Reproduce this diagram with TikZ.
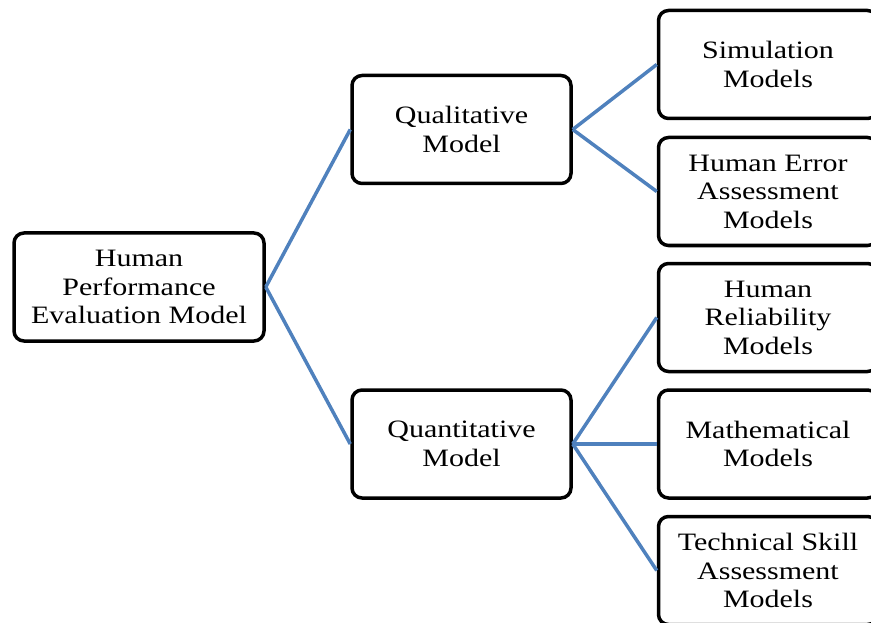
\documentclass[tikz,border=0pt]{standalone}
\usepackage{fontspec}
\setmainfont{Liberation Serif}[FakeStretch=1.2]
\begin{document}
\begin{tikzpicture}[x=1pt,y=-1pt,
    box/.style={draw,line width=3.5pt,rounded corners=10pt,fill=white,
        align=center,inner sep=0pt,minimum width=219pt,minimum height=108pt,
        font=\fontsize{25}{28.5}\selectfont},
    link/.style={draw={rgb,255:red,79;green,129;blue,189},line width=3.5pt}]
    \useasboundingbox (0,0) rectangle (871,623);
    \clip (0,0) rectangle (871,623);
    \node[box,minimum width=250pt] (human) at (139,287) {Human\\Performance\\Evaluation Model};
    \node[box] (qual) at (461.5,129.5) {Qualitative\\Model};
    \node[box] (quant) at (461.5,444) {Quantitative\\Model};
    \node[box] (sim) at (768,64.5) {Simulation\\Models};
    \node[box] (error) at (768,191.5) {Human Error\\Assessment\\Models};
    \node[box] (reliab) at (768,317.5) {Human\\Reliability\\Models};
    \node[box] (math) at (768,444) {Mathematical\\Models};
    \node[box] (skill) at (768,570.5) {Technical Skill\\Assessment\\Models};
    \draw[link] (human.east) -- (qual.west);
    \draw[link] (human.east) -- (quant.west);
    \draw[link] (qual.east) -- (sim.west);
    \draw[link] (qual.east) -- (error.west);
    \draw[link] (quant.east) -- (reliab.west);
    \draw[link] (quant.east) -- (math.west);
    \draw[link] (quant.east) -- (skill.west);
\end{tikzpicture}
\end{document}
